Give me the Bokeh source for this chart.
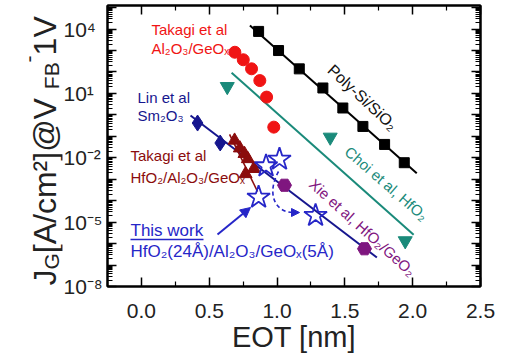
import math
from bokeh.plotting import figure
from bokeh.layouts import row
from bokeh.models import (Range1d, LinearAxis, LogAxis, FixedTicker, CustomJSTickFormatter,
                          Label, Arrow, NormalHead)
from bokeh.embed import file_html
from bokeh.resources import INLINE

# ---------------- data ----------------
poly_eot = [0.864, 1.011, 1.164, 1.338, 1.485, 1.633, 1.793, 1.938]
poly_jg = [7.8e3, 1.0e3, 1.4e2, 1.8e1, 2.1e0, 2.9e-1, 4.2e-2, 5.9e-3]
poly_fit_eot = [0.80, 2.03]
poly_fit_jg = [1.48e4, 1.9e-3]

takagi_al_eot = [0.689, 0.751, 0.812, 0.873, 0.923, 0.976]
takagi_al_jg = [832, 372, 141, 39.8, 6.76, 0.269]

choi_eot = [0.633, 1.392, 1.945]
choi_jg = [20.9, 0.0912, 1.35e-6]
choi_fit_eot = [0.665, 2.007]
choi_fit_jg = [93.0, 2.6e-6]

lin_eot = [0.414, 0.581]
lin_jg = [0.417, 0.049]

xie_eot = [1.055, 1.645]
xie_jg = [5.25e-4, 5.75e-7]
linxie_fit_eot = [0.362, 1.736]
linxie_fit_jg = [0.933, 2.24e-7]

takagi_hf_eot = [0.687, 0.726, 0.760, 0.785, 0.768, 0.829]
takagi_hf_jg = [0.0646, 0.0282, 0.0155, 8.9e-3, 1.78e-3, 3.09e-3]
takagi_hf_fit_eot = [0.650, 0.856]
takagi_hf_fit_jg = [0.123, 2.69e-4]

this_work_eot = [0.864, 0.919, 1.018, 1.284]
this_work_jg = [1.45e-4, 4.17e-3, 8.5e-3, 2.04e-5]

x_ticks = [0.0, 0.5, 1.0, 1.5, 2.0, 2.5]
x_tick_labels = ["0.0", "0.5", "1.0", "1.5", "2.0", "2.5"]
x_minor_ticks = [-0.25, 0.25, 0.75, 1.25, 1.75, 2.25]
y_decades = list(range(-8, 6))
y_label_exponents = [4, 1, -2, -5, -8]
y_tick_labels = ["10\u2074", "10\u00b9", "10\u207b\u00b2", "10\u207b\u2075", "10\u207b\u2078"]

# ---------------- colours ----------------
RED = "#f01414"
NAVY = "#16168e"
DARKRED = "#8b0c0c"
TEAL = "#1a8a7a"
PURPLE = "#7f167f"
BLUE = "#2626c8"
FONT = "Liberation Sans"
TXT = "#222222"

X0, X1 = -0.25, 2.5
LY0, LY1 = -8.0, 5.1
LEFT_W = 105          # width of the left strip (y title + y tick labels)
BORDER_TOP, BORDER_BOTTOM = 5, 76

yr = Range1d(10**LY0, 10**LY1)

p = figure(width=506 - LEFT_W, height=362, x_range=Range1d(X0, X1), y_range=yr,
           y_axis_type="log", output_backend="svg", toolbar_location=None,
           min_border_left=107 - LEFT_W, min_border_right=26, min_border_top=BORDER_TOP,
           min_border_bottom=BORDER_BOTTOM)
p.grid.visible = False
p.outline_line_color = "black"
p.outline_line_width = 2
p.background_fill_color = "white"
p.border_fill_color = "white"

# helpers to place annotation text at reference pixel positions
FL, FR, FT, FB_ = 107.0, 480.0, 5.0, 286.0
def px2x(sx):
    return X0 + (sx - FL) / (FR - FL) * (X1 - X0)
def py2y(sy):
    return 10 ** (LY1 - (sy - FT) / (FB_ - FT) * (LY1 - LY0))

y_major = [10.0 ** k for k in y_decades]
y_minor = [m * 10.0 ** k for k in y_decades for m in range(2, 10) if m * 10.0 ** k < 10 ** LY1]
yfmt = CustomJSTickFormatter(args=dict(exps=y_label_exponents, labels=y_tick_labels), code="""
const e = Math.round(Math.log10(tick));
const i = exps.indexOf(e);
return i >= 0 ? labels[i] : '';
""")
xfmt = CustomJSTickFormatter(args=dict(xt=x_ticks, xl=x_tick_labels), code="""
const i = xt.findIndex(v => Math.abs(v - tick) < 1e-9);
return i >= 0 ? xl[i] : '';
""")

def style_axis(ax):
    ax.axis_line_width = 2
    ax.axis_line_color = "black"
    ax.major_tick_in = 9
    ax.major_tick_out = 0
    ax.minor_tick_in = 5
    ax.minor_tick_out = 0
    ax.major_tick_line_width = 1.5
    ax.minor_tick_line_width = 1.2
    ax.major_label_text_font = FONT
    ax.major_label_text_font_size = "21px"
    ax.major_label_text_color = TXT

def hide_labels(ax):
    ax.formatter = CustomJSTickFormatter(code="return '';")
    ax.major_label_text_font_size = "0px"
    ax.major_label_standoff = 0

xax = p.xaxis[0]
xax.ticker = FixedTicker(ticks=x_ticks, minor_ticks=x_minor_ticks)
xax.formatter = xfmt
style_axis(xax)
xax.major_label_standoff = 17
xax.axis_label = "EOT [nm]"
xax.axis_label_text_font = FONT
xax.axis_label_text_font_size = "29px"
xax.axis_label_text_font_style = "normal"
xax.axis_label_text_color = TXT
xax.axis_label_standoff = 0

yax = p.yaxis[0]
yax.ticker = FixedTicker(ticks=y_major, minor_ticks=y_minor)
style_axis(yax)
hide_labels(yax)

tax = LinearAxis(ticker=FixedTicker(ticks=x_ticks, minor_ticks=x_minor_ticks))
style_axis(tax)
hide_labels(tax)
p.add_layout(tax, "above")

rax = LogAxis(ticker=FixedTicker(ticks=y_major, minor_ticks=y_minor))
style_axis(rax)
hide_labels(rax)
p.add_layout(rax, "right")

# ---------------- lines ----------------
p.line(poly_fit_eot, poly_fit_jg, line_color="black", line_width=2)
p.line(choi_fit_eot, choi_fit_jg, line_color=TEAL, line_width=2)
p.line(linxie_fit_eot, linxie_fit_jg, line_color=NAVY, line_width=2)
p.line(takagi_hf_fit_eot, takagi_hf_fit_jg, line_color=DARKRED, line_width=1.6)

# ---------------- markers ----------------
p.scatter(poly_eot, poly_jg, marker="square", size=10, color="black")
p.scatter(takagi_al_eot, takagi_al_jg, marker="circle", size=12, color=RED)
p.scatter(choi_eot, choi_jg, marker="inverted_triangle", size=14, color=TEAL)
p.scatter(lin_eot, lin_jg, marker="diamond", size=16, color=NAVY)
p.scatter(xie_eot, xie_jg, marker="hex", size=14, color=PURPLE)
p.scatter(takagi_hf_eot, takagi_hf_jg, marker="triangle", size=13, color=DARKRED)
p.scatter(this_work_eot, this_work_jg, marker="star", size=24, fill_alpha=0,
          line_color=BLUE, line_width=1.8)

# ---------------- arrows ----------------
p.add_layout(Arrow(end=NormalHead(size=10, fill_color=BLUE, line_color=BLUE),
                   x_start=px2x(217), y_start=py2y(234),
                   x_end=px2x(250), y_end=py2y(207),
                   line_color=BLUE, line_width=2))
p.bezier(x0=[px2x(278)], y0=[py2y(171)], x1=[px2x(293)], y1=[py2y(212)],
         cx0=[px2x(266)], cy0=[py2y(193)], cx1=[px2x(274)], cy1=[py2y(212)],
         line_color=BLUE, line_width=1.6, line_dash="4 3")
p.add_layout(Arrow(end=NormalHead(size=8, fill_color=BLUE, line_color=BLUE),
                   x_start=px2x(290), y_start=py2y(212), x_end=px2x(299), y_end=py2y(212),
                   line_alpha=0))

# ---------------- text labels ----------------
def lab(text, sx, sy, color, size, align="left", angle=0.0, baseline="middle"):
    p.add_layout(Label(x=px2x(sx), y=py2y(sy), text=text, text_color=color,
                       text_font=FONT, text_font_size=f"{size}px", text_align=align,
                       text_baseline=baseline, angle=angle))

lab("Takagi et al", 151, 29, RED, 15)
lab("Al\u2082O\u2083/GeO\u2093", 151, 48, RED, 15)
lab("Lin et al", 137, 97, NAVY, 15)
lab("Sm\u2082O\u2083", 137, 115, NAVY, 15)
lab("Takagi et al", 130, 155, DARKRED, 15)
lab("HfO\u2082/Al\u2082O\u2083/GeO\u2093", 130, 177, DARKRED, 15)
lab("This work", 130, 230, BLUE, 17)
lab("HfO\u2082(24\u00c5)/Al\u2082O\u2083/GeO\u2093(5\u00c5)", 130, 251, BLUE, 17)
p.segment(x0=[px2x(130)], y0=[py2y(239)], x1=[px2x(203)], y1=[py2y(239)],
          line_color=BLUE, line_width=1.3)

lab("Poly-Si/SiO\u2082", 362, 97, "#111111", 16, align="center", angle=-math.radians(43))
lab("Choi et al, HfO\u2082", 386, 183, TEAL, 15, align="center", angle=-math.radians(41))
lab("Xie et al, HfO\u2082/GeO\u2082", 362, 227, PURPLE, 15, align="center", angle=-math.radians(42))

# ---------------- left strip: y tick labels (log axis) + y title with sub/superscripts ----------------
STRIP_FRAME_R = 62
t = figure(width=LEFT_W, height=362, x_range=Range1d(0, STRIP_FRAME_R), y_range=yr,
           y_axis_type="log", y_axis_location="right", x_axis_location=None,
           output_backend="svg", toolbar_location=None,
           min_border_left=0, min_border_right=LEFT_W - STRIP_FRAME_R,
           min_border_top=BORDER_TOP, min_border_bottom=BORDER_BOTTOM)
t.grid.visible = False
t.outline_line_color = None
t.background_fill_color = "white"
t.border_fill_color = "white"
lax = t.yaxis[0]
lax.ticker = FixedTicker(ticks=y_major, minor_ticks=[])
lax.formatter = yfmt
lax.axis_line_color = None
lax.major_tick_line_color = None
lax.minor_tick_line_color = None
lax.major_tick_in = 0
lax.major_tick_out = 0
lax.minor_tick_in = 0
lax.minor_tick_out = 0
lax.major_label_standoff = 1
lax.major_label_text_font = FONT
lax.major_label_text_font_size = "21px"
lax.major_label_text_color = TXT

ypieces = [("J", 44, 285, 32), ("G", 51, 269, 21), (" [A/cm\u00b2]@V", 44, 252.7, 32),
           ("FB", 51, 88.7, 21), ("-", 28, 61.9, 21), ("1V", 44, 54.9, 32)]
for txt, sx, sy, fs in ypieces:
    t.add_layout(Label(x=sx, y=py2y(sy), text=txt, text_color=TXT, text_font=FONT,
                       text_font_size=f"{fs}px", text_align="left",
                       text_baseline="alphabetic", angle=math.pi / 2))

layout = row(t, p)
open("out.html", "w").write(file_html(layout, INLINE))
